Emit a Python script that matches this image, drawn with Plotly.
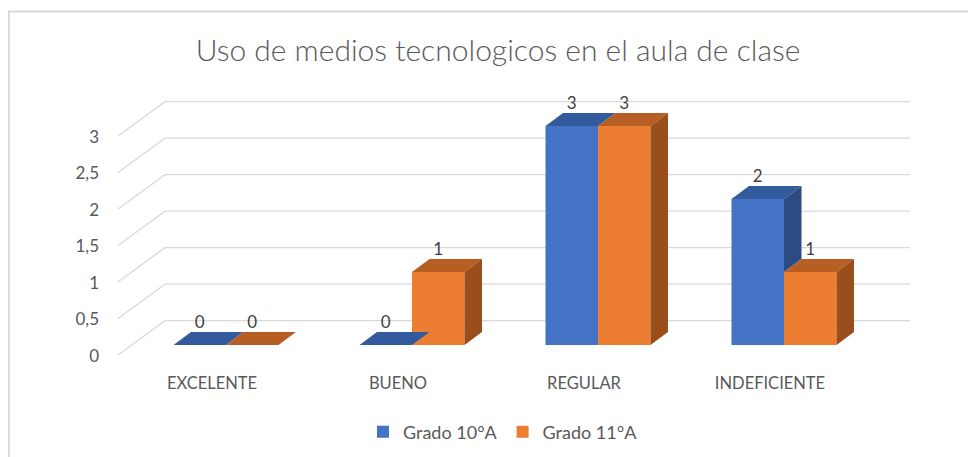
import plotly.graph_objects as go

# ---------------- data ----------------
categories = ["EXCELENTE", "BUENO", "REGULAR", "INDEFICIENTE"]
grado10 = [0, 0, 3, 2]
grado11 = [0, 1, 3, 1]
series_names = ["Grado 10°A", "Grado 11°A"]
ytick_vals = [0, 0.5, 1, 1.5, 2, 2.5, 3]
ytick_text = ["0", "0,5", "1", "1,5", "2", "2,5", "3"]
title_text = "Uso de medios tecnologicos en el aula de clase"

# ---------------- styling / geometry ----------------
OFF = 8  # page body margin
W, H = 976 - OFF, 457 - OFF
PX_X = 186.0   # px per category unit
PX_Y = 73.0    # px per value unit
ML = 104 - OFF
MT = 90 - OFF
PLOT_R = 930 - OFF
PLOT_B = 366 - OFF
MR = W - PLOT_R
MB = H - PLOT_B
GROUP0_PX = 226.0 - OFF   # px of first group center
BASE_PX = 345.0 - OFF     # px of value 0 (bar front face)

x_range = [(ML - GROUP0_PX) / PX_X, (PLOT_R - GROUP0_PX) / PX_X]
y_range = [(BASE_PX - PLOT_B) / PX_Y, (BASE_PX - MT) / PX_Y]

BAR_W = 52.5 / PX_X
DDX, DDY = 17.5 / PX_X, 13.0 / PX_Y           # bar depth
WALL_L = (165 - OFF - GROUP0_PX) / PX_X
WALL_R = (910 - OFF - GROUP0_PX) / PX_X
WALL_DY = 24.3 / PX_Y
FRONT_L = (118 - OFF - GROUP0_PX) / PX_X
FRONT_DY = -10.0 / PX_Y

colors = {
    0: dict(front="#4472C4", top="#335A9C", side="#2B4B82"),
    1: dict(front="#ED7D31", top="#B65E23", side="#9A4E1C"),
}
grid_color = "#D9D9D9"
text_color = "#595959"
FONT = "Lato, 'Open Sans', sans-serif"

fig = go.Figure()

xs = list(range(len(categories)))
series = [grado10, grado11]
offsets = [-BAR_W, 0.0]

# front faces as real bars
for s, vals in enumerate(series):
    fig.add_trace(go.Bar(
        x=xs, y=vals, name=series_names[s], width=BAR_W, offset=offsets[s],
        marker=dict(color=colors[s]["front"], line=dict(width=0)),
        hoverinfo="skip",
    ))

# top and side faces (computed from values)
def poly(px, py, color):
    fig.add_trace(go.Scatter(
        x=px + [px[0]], y=py + [py[0]], mode="lines", fill="toself",
        fillcolor=color, line=dict(width=0, color=color),
        showlegend=False, hoverinfo="skip",
    ))

for i in xs:
    for s, vals in enumerate(series):
        v = vals[i]
        x0 = i + offsets[s]
        x1 = x0 + BAR_W
        poly([x0, x1, x1 + DDX, x0 + DDX], [v, v, v + DDY, v + DDY], colors[s]["top"])
        if s == 0:
            vo = series[1][i]
            if v > vo:
                poly([x1, x1, x1 + DDX, x1 + DDX], [vo, v, v + DDY, vo + DDY], colors[s]["side"])
        else:
            if v > 0:
                poly([x1, x1, x1 + DDX, x1 + DDX], [0, v, v + DDY, DDY], colors[s]["side"])

# data labels
for s, vals in enumerate(series):
    fig.add_trace(go.Scatter(
        x=[i + offsets[s] + BAR_W / 2 for i in xs],
        y=[v + DDY for v in vals],
        mode="text", text=[str(v) for v in vals], textposition="top center",
        textfont=dict(family=FONT, size=17, color="#404040"),
        showlegend=False, hoverinfo="skip", cliponaxis=False,
    ))

# gridlines: side wall diagonal + back wall horizontal
shapes = []
for v in ytick_vals:
    path = (f"M {FRONT_L},{v + FRONT_DY} L {WALL_L},{v + WALL_DY} "
            f"L {WALL_R},{v + WALL_DY}")
    shapes.append(dict(type="path", xref="x", yref="y", path=path,
                       line=dict(color=grid_color, width=1.3), layer="below"))

# chart border
pw, ph = W - ML - MR, H - MT - MB
def pxp(px):
    return (px - ML) / pw
def pyp(py):
    return (PLOT_B - py) / ph
shapes.append(dict(type="rect", xref="paper", yref="paper",
                   x0=pxp(0.8), x1=pxp(990), y0=pyp(470), y1=pyp(11.5 - OFF),
                   line=dict(color="#D9D9D9", width=2), fillcolor="rgba(0,0,0,0)",
                   layer="below"))

fig.update_layout(
    width=W, height=H,
    margin=dict(l=ML, r=MR, t=MT, b=MB),
    paper_bgcolor="white", plot_bgcolor="white",
    barmode="overlay",
    shapes=shapes,
    title=dict(text=title_text, x=(498 - OFF) / W, xref="container", xanchor="center",
               y=1 - (50 - OFF) / H, yref="container", yanchor="middle",
               font=dict(family=FONT, size=30, color=text_color, weight=300)),
    xaxis=dict(range=x_range, tickvals=xs, ticktext=categories,
               showgrid=False, zeroline=False, showline=False, ticks="",
               ticklabelshift=-14, ticklabelstandoff=5,
               tickfont=dict(family=FONT, size=16.5, color=text_color),
               fixedrange=True),
    yaxis=dict(range=y_range, tickvals=ytick_vals, ticktext=ytick_text,
               showgrid=False, zeroline=False, showline=False, ticks="",
               ticklabelshift=11, ticklabelstandoff=4,
               tickfont=dict(family=FONT, size=17, color=text_color),
               fixedrange=True),
    legend=dict(orientation="h", x=(503 - OFF) / W, xref="container", xanchor="center",
                y=1 - (432 - OFF) / H, yref="container", yanchor="middle",
                font=dict(family=FONT, size=18, color=text_color),
                itemclick=False, itemdoubleclick=False),
    showlegend=True,
)

fig.write_html("out.html")
